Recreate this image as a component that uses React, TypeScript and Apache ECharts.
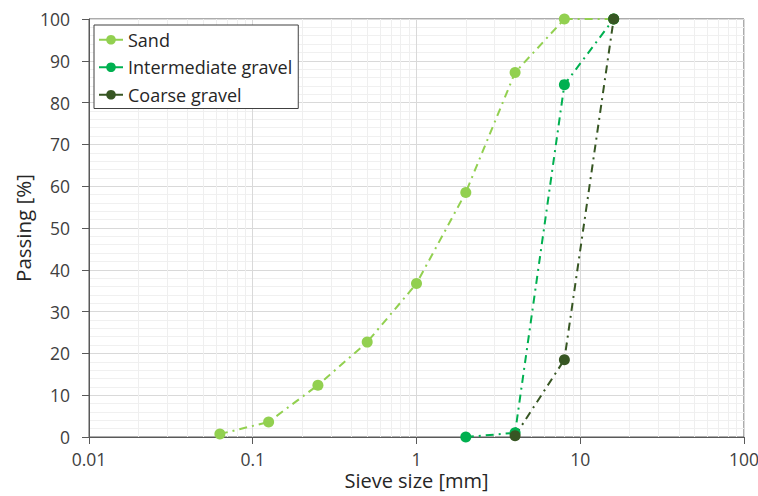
import React, { useEffect, useRef } from "react";
import * as echarts from "echarts";

const sieveSand = [0.063, 0.125, 0.25, 0.5, 1, 2, 4, 8, 16];
const passingSand = [0.7, 3.6, 12.4, 22.7, 36.7, 58.5, 87.2, 100, 100];

const sieveInter = [2, 4, 8, 16];
const passingInter = [0, 1, 84.3, 100];

const sieveCoarse = [4, 8, 16];
const passingCoarse = [0.3, 18.5, 100];

const seriesNames = ["Sand", "Intermediate gravel", "Coarse gravel"];
const seriesColors = ["#92D050", "#00B050", "#375623"];

const decades = [0.01, 0.1, 1, 10];
const minorMultipliers = [2, 3, 4, 5, 6, 7, 8, 9];

const FONT = "'Open Sans', 'Noto Sans', sans-serif";

export default function App() {
  const ref = useRef<HTMLDivElement>(null);
  useEffect(() => {
    if (!ref.current) return;
    const chart = echarts.init(ref.current, undefined, { renderer: "svg" });
    const minorX: number[] = [];
    decades.forEach((d) =>
      minorMultipliers.forEach((m) => minorX.push(parseFloat((d * m).toPrecision(3))))
    );
    const dash = [8, 5, 2, 5];
    const mk = (i: number, xs: number[], ys: number[]) => ({
      name: seriesNames[i],
      type: "line",
      z: 3,
      data: xs.map((x, k) => [x, ys[k]]),
      symbol: "circle",
      symbolSize: 11,
      itemStyle: { color: seriesColors[i] },
      lineStyle: { color: seriesColors[i], width: 2, type: dash },
    });
    chart.setOption({
      animation: false,
      textStyle: { fontFamily: FONT },
      grid: {
        left: 89,
        right: 14,
        top: 19,
        bottom: 59,
        outerBoundsMode: "none",
        containLabel: false,
        show: true,
        borderColor: "#595959",
        borderWidth: 1,
      },
      legend: {
        orient: "vertical",
        left: 94,
        top: 25,
        z: 10,
        padding: [5, 6, 4, 4],
        itemGap: 8,
        itemWidth: 24,
        itemHeight: 12,
        borderColor: "#404040",
        borderWidth: 1,
        backgroundColor: "#ffffff",
        data: seriesNames,
        lineStyle: { type: "solid" },
        textStyle: { fontFamily: FONT, fontSize: 18, color: "#262626", lineHeight: 19.5 },
      },
      xAxis: {
        type: "log",
        logBase: 10,
        min: 0.01,
        max: 100,
        name: "Sieve size [mm]",
        nameLocation: "middle",
        nameGap: 32,
        nameMoveOverlap: false,
        nameTextStyle: { fontSize: 20, color: "#262626", fontFamily: FONT, lineHeight: 22 },
        axisLine: { lineStyle: { color: "#595959", width: 1 } },
        axisTick: { show: true, length: 7, lineStyle: { color: "#595959" } },
        axisLabel: {
          fontSize: 17.5,
          lineHeight: 18,
          color: "#404040",
          margin: 13,
          fontFamily: FONT,
          formatter: (v: number) => String(v),
        },
        splitLine: { show: true, lineStyle: { color: "#d9d9d9", width: 1 } },
        minorTick: { show: false },
        minorSplitLine: { show: false },
      },
      yAxis: {
        type: "value",
        min: 0,
        max: 100,
        interval: 10,
        name: "Passing [%]",
        nameLocation: "middle",
        nameGap: 56,
        nameMoveOverlap: false,
        nameTextStyle: { fontSize: 20.5, color: "#262626", fontFamily: FONT },
        axisLine: { show: true, lineStyle: { color: "#595959", width: 1 } },
        axisTick: { show: true, length: 7, lineStyle: { color: "#595959" } },
        axisLabel: { fontSize: 17.5, color: "#404040", margin: 19, fontFamily: FONT },
        splitLine: { show: true, lineStyle: { color: "#d9d9d9", width: 1 } },
        minorTick: { show: false, splitNumber: 5 },
        minorSplitLine: { show: true, lineStyle: { color: "#f0f0f0", width: 1 } },
      },
      series: [
        {
          name: "_grid",
          type: "line",
          z: 1,
          data: [],
          silent: true,
          markLine: {
            z: 1,
            silent: true,
            symbol: ["none", "none"],
            label: { show: false },
            lineStyle: { color: "#efefef", width: 1, type: "solid" },
            data: minorX.map((x) => ({ xAxis: x })),
          },
        },
        mk(0, sieveSand, passingSand),
        mk(1, sieveInter, passingInter),
        mk(2, sieveCoarse, passingCoarse),
      ],
    });
    return () => chart.dispose();
  }, []);
  return <div ref={ref} style={{ width: 758, height: 496, position: "fixed", left: 0, top: 0, background: "#fff" }} />;
}
